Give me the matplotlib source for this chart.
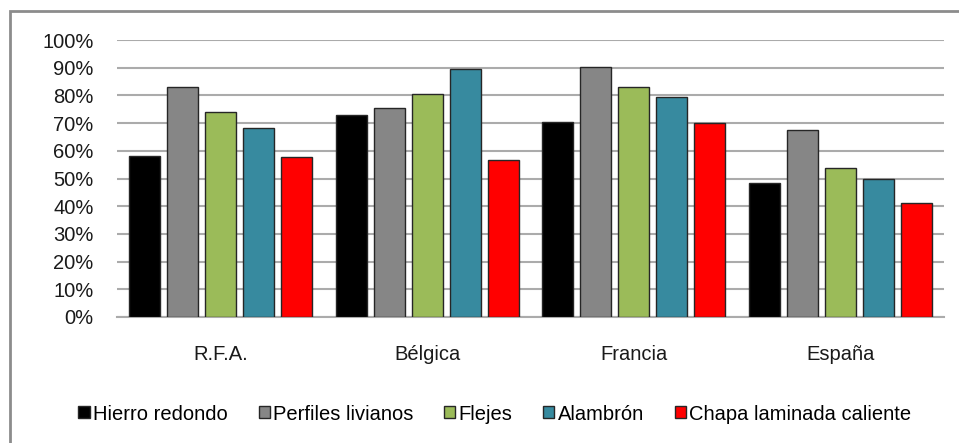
import matplotlib
matplotlib.use("Agg")
import matplotlib.pyplot as plt
import numpy as np
from matplotlib.patches import Rectangle
from matplotlib.ticker import PercentFormatter

plt.rcParams['font.family'] = ['Liberation Sans', 'DejaVu Sans']

categories = ["R.F.A.", "Bélgica", "Francia", "España"]
series_names = ["Hierro redondo", "Perfiles livianos", "Flejes", "Alambrón", "Chapa laminada caliente"]
hierro = [58.0, 72.8, 70.4, 48.4]
perfiles = [83.2, 75.4, 90.2, 67.6]
flejes = [74.0, 80.5, 83.2, 53.8]
alambron = [68.1, 89.6, 79.6, 50.0]
chapa = [57.9, 56.6, 69.9, 41.3]
colors = ["#000000", "#868686", "#9BBB59", "#378A9F", "#FF0000"]
yticks = list(range(0, 101, 10))

data = [hierro, perfiles, flejes, alambron, chapa]

fig = plt.figure(figsize=(9.59, 4.43), dpi=100)
ax = fig.add_axes([117/959, 1-317/443, (944-117)/959, (317-40)/443])

x = np.arange(len(categories))
pitch = 0.184
width = 0.15
for i, (vals, name, col) in enumerate(zip(data, series_names, colors)):
    ax.bar(x + (i - 2) * pitch, vals, width=width, color=col, edgecolor="#262626",
           linewidth=1.0, label=name, zorder=3)

ax.set_xlim(-0.5, len(categories) - 0.5)
ax.set_ylim(0, 100)
ax.set_yticks(yticks)
ax.yaxis.set_major_formatter(PercentFormatter(decimals=0))
ax.set_xticks(x)
ax.set_xticklabels(categories)
ax.grid(axis='y', color="#ababab", linewidth=1.5, zorder=0)
for s in ["left", "right", "top"]:
    ax.spines[s].set_visible(False)
ax.spines["bottom"].set_color("#ababab")
ax.spines["bottom"].set_linewidth(1.5)
ax.tick_params(axis='both', length=0, labelsize=14.5, colors="#1a1a1a")
ax.tick_params(axis='y', pad=17)
ax.tick_params(axis='x', pad=20)

leg = fig.legend(loc="center", bbox_to_anchor=(0.516, 1-414/443), ncol=5, frameon=False,
                 fontsize=14.5, handlelength=0.55, handleheight=0.55, handletextpad=0.15,
                 columnspacing=1.55)

fig.patches.append(Rectangle((10/959, -0.1), 1.2, 1.1 - 11/443, transform=fig.transFigure,
                             fill=False, edgecolor="#8c8c8c", linewidth=2.0))

fig.savefig("out.png", dpi=100)
